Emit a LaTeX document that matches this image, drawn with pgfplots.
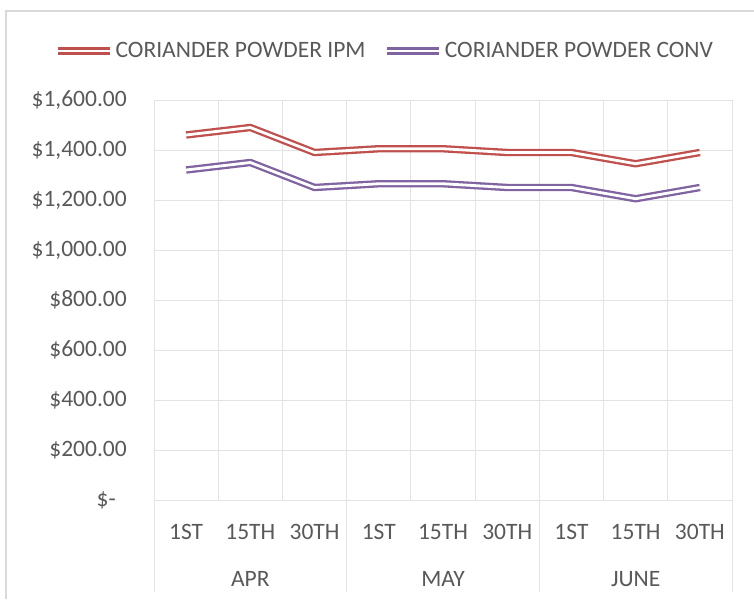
\documentclass[border=0pt]{standalone}
\usepackage{fontspec}
\setmainfont{Carlito}
\usepackage{pgfplots}
\pgfplotsset{compat=1.18}
\definecolor{ipm}{HTML}{C0504D}
\definecolor{conv}{HTML}{8064A2}
\definecolor{gridc}{HTML}{E3E3E3}
\definecolor{framec}{HTML}{D9D9D9}
\definecolor{txt}{HTML}{595959}
\newcommand\chartfont{\fontsize{23.5}{28}\selectfont}

\begin{document}
\begin{tikzpicture}
% outer chart frame (right and bottom edges are cut off in the original)
\draw[framec, line width=1.3pt] (-148pt,-99pt) -- (-148pt,489pt) -- (600pt,489pt);
\begin{axis}[
    scale only axis,
    width=578pt, height=400pt,
    xmin=0.5, xmax=9.5, ymin=0, ymax=1600,
    xtick={1,...,9},
    xticklabels={1ST,15TH,30TH,1ST,15TH,30TH,1ST,15TH,30TH},
    minor xtick={0.5,1.5,...,9.5},
    ytick={0,200,...,1600},
    yticklabels={{\$-\kern11pt},{\$200.00},{\$400.00},{\$600.00},{\$800.00},{\$1,000.00},{\$1,200.00},{\$1,400.00},{\$1,600.00}},
    xminorgrids, ymajorgrids,
    grid style={draw=gridc, line width=0.9pt},
    minor grid style={draw=gridc, line width=0.9pt},
    axis line style={draw=none},
    major tick length=0pt, minor tick length=0pt,
    tick style={draw=none},
    every tick label/.append style={font=\chartfont, text=txt},
    yticklabel style={anchor=east, inner sep=0pt, xshift=-27pt},
    xticklabel style={anchor=base, inner sep=0pt, yshift=-39pt},
    clip=false,
    legend columns=2,
    legend style={at={(0.399,1.1225)}, anchor=center, draw=none, fill=none,
        font=\chartfont, text=txt, inner sep=0pt, nodes={inner sep=2pt},
        /tikz/every even column/.append style={column sep=16pt}},
    legend image code/.code={\draw[#1] (0pt,0pt) -- (52pt,0pt);},
]
\addplot[draw=ipm, line width=2.3pt, double=white, double distance=2.8pt, line join=round, mark=none]
    coordinates {(1,1460) (2,1490) (3,1390) (4,1405) (5,1405) (6,1390) (7,1390) (8,1345) (9,1390)};
\addplot[draw=conv, line width=2.3pt, double=white, double distance=2.8pt, line join=round, mark=none]
    coordinates {(1,1320) (2,1350) (3,1250) (4,1265) (5,1265) (6,1250) (7,1250) (8,1205) (9,1250)};
\legend{CORIANDER POWDER IPM, CORIANDER POWDER CONV}
% month group separators and labels
\draw[gridc, line width=0.9pt] (axis cs:0.5,0) -- ([yshift=-92pt]axis cs:0.5,0);
\draw[gridc, line width=0.9pt] (axis cs:3.5,0) -- ([yshift=-92pt]axis cs:3.5,0);
\draw[gridc, line width=0.9pt] (axis cs:6.5,0) -- ([yshift=-92pt]axis cs:6.5,0);
\draw[gridc, line width=0.9pt] (axis cs:9.5,0) -- ([yshift=-92pt]axis cs:9.5,0);
\node[anchor=base, font=\chartfont, text=txt] at ([yshift=-86pt]axis cs:2,0) {APR};
\node[anchor=base, font=\chartfont, text=txt] at ([yshift=-86pt]axis cs:5,0) {MAY};
\node[anchor=base, font=\chartfont, text=txt] at ([yshift=-86pt]axis cs:8,0) {JUNE};
\end{axis}
\pgfresetboundingbox
\path (-154pt,-99pt) rectangle (600pt,500pt);
\end{tikzpicture}
\end{document}
